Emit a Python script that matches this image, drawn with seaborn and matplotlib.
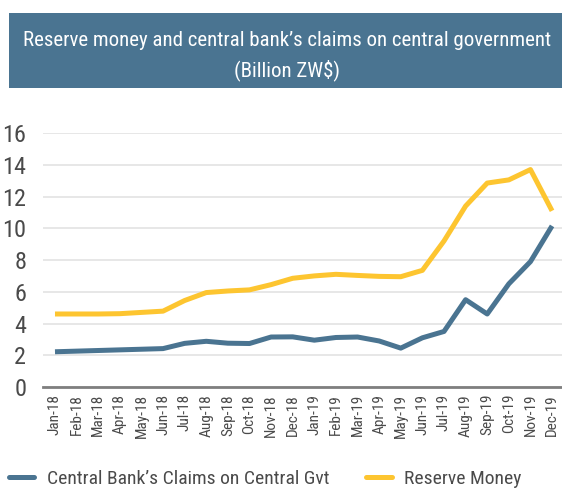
import matplotlib
matplotlib.use("Agg")
import matplotlib.pyplot as plt
from matplotlib import font_manager
from matplotlib.patches import Rectangle
from matplotlib.lines import Line2D
import seaborn as sns
import pandas as pd

# Monthly data, Jan 2018 - Dec 2019 (Billion ZW$)
months = ["Jan-18", "Feb-18", "Mar-18", "Apr-18", "May-18", "Jun-18",
          "Jul-18", "Aug-18", "Sep-18", "Oct-18", "Nov-18", "Dec-18",
          "Jan-19", "Feb-19", "Mar-19", "Apr-19", "May-19", "Jun-19",
          "Jul-19", "Aug-19", "Sep-19", "Oct-19", "Nov-19", "Dec-19"]
claims_on_govt = [2.22, 2.26, 2.30, 2.34, 2.38, 2.42,
                  2.75, 2.88, 2.76, 2.74, 3.15, 3.16,
                  2.95, 3.12, 3.15, 2.90, 2.45, 3.10,
                  3.50, 5.50, 4.60, 6.50, 7.90, 10.15]
reserve_money = [4.60, 4.60, 4.60, 4.62, 4.70, 4.78,
                 5.45, 5.95, 6.05, 6.12, 6.45, 6.85,
                 7.00, 7.10, 7.03, 6.97, 6.95, 7.35,
                 9.20, 11.40, 12.85, 13.05, 13.70, 11.10]
series_names = ["Central Bank\u2019s Claims on Central Gvt", "Reserve Money"]
title_lines = ["Reserve money and central bank\u2019s claims on central government",
               "(Billion ZW$)"]

BLUE = "#4a7491"
GOLD = "#fdc530"
TEXT = "#4a4a4a"

sns.set_theme(style="white")
available = {f.name for f in font_manager.fontManager.ttflist}
family = "DejaVu Sans"
for cand in ["Roboto Condensed", "Liberation Sans Narrow", "DejaVu Sans Condensed",
             "Open Sans Condensed", "Noto Sans Condensed", "Roboto"]:
    if cand in available:
        family = cand
        break
plt.rcParams["font.family"] = [family, "DejaVu Sans"]

df = pd.DataFrame({
    "idx": list(range(len(months))) * 2,
    "value": claims_on_govt + reserve_money,
    "series": [series_names[0]] * len(months) + [series_names[1]] * len(months),
})

fig = plt.figure(figsize=(5.62, 4.91), dpi=100)
ax = fig.add_axes([0.0765, 0.2118, 0.9235, 0.5172])

sns.lineplot(data=df, x="idx", y="value", hue="series",
             palette={series_names[0]: BLUE, series_names[1]: GOLD},
             linewidth=3.6, legend=False, ax=ax,
             solid_capstyle="butt", solid_joinstyle="round")

ax.set_xlim(-0.555, 23.46)
ax.set_ylim(0, 16)
ax.set_yticks(range(0, 17, 2))
ax.set_yticklabels([str(v) for v in range(0, 17, 2)], fontsize=17.5, color=TEXT)
ax.set_xticks(range(len(months)))
ax.set_xticklabels(months, rotation=90, fontsize=11, color=TEXT)
ax.tick_params(axis="both", length=0)
ax.tick_params(axis="x", pad=5)
ax.tick_params(axis="y", pad=12)
ax.set_xlabel("")
ax.set_ylabel("")
ax.grid(axis="y", color="#e3e3e3", linewidth=1.2)
ax.set_axisbelow(True)
for side in ["top", "right", "left"]:
    ax.spines[side].set_visible(False)
ax.spines["bottom"].set_color("#7f7f7f")
ax.spines["bottom"].set_linewidth(2)

# Title banner
fig.patches.append(Rectangle((0.016, 0.8208), 0.984, 0.1527, transform=fig.transFigure,
                             facecolor=BLUE, edgecolor="none", zorder=0))
fig.text(0.511, 0.918, title_lines[0], ha="center", va="center", color="white", fontsize=15)
fig.text(0.511, 0.857, title_lines[1], ha="center", va="center", color="white", fontsize=15)

# Legend along the bottom
handles = [Line2D([], [], color=BLUE, linewidth=3.6),
           Line2D([], [], color=GOLD, linewidth=3.6)]
fig.legend(handles, series_names, loc="center left", bbox_to_anchor=(0.016, 0.024),
           ncol=2, frameon=False, fontsize=14, handlelength=1.3, columnspacing=1.9,
           handletextpad=0.65, labelcolor=TEXT, borderpad=0, borderaxespad=0)

fig.savefig("out.png", dpi=100)
